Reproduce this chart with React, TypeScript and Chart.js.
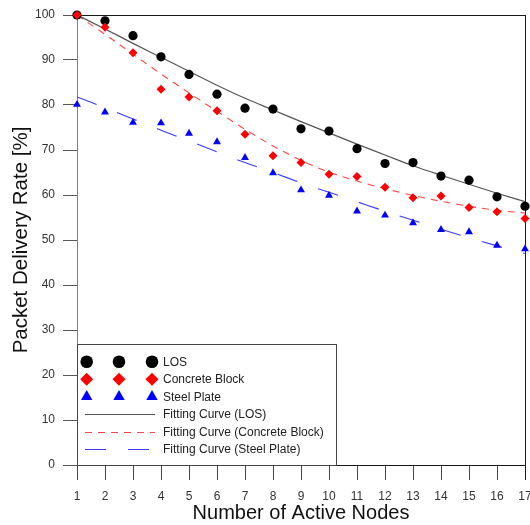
import React, { useEffect, useRef } from 'react';
import { Chart, registerables } from 'chart.js';

Chart.register(...registerables);

const nodes = [1, 2, 3, 4, 5, 6, 7, 8, 9, 10, 11, 12, 13, 14, 15, 16, 17];
const losRate = [100, 98.7, 95.4, 90.7, 86.8, 82.4, 79.3, 79.1, 74.7, 74.2, 70.3, 67.0, 67.2, 64.2, 63.3, 59.6, 57.5];
const concreteRate = [100, 97.3, 91.6, 83.5, 81.8, 78.7, 73.5, 68.7, 67.2, 64.6, 64.1, 61.7, 59.4, 59.8, 57.2, 56.3, 54.8];
const steelRate = [80.1, 78.4, 76.1, 76.0, 73.7, 71.8, 68.3, 64.9, 61.1, 59.9, 56.4, 55.5, 53.8, 52.3, 51.8, 48.8, 48.0];
const fitLos = [100, 96.9, 93.7, 90.6, 87.5, 84.4, 81.5, 78.9, 76.3, 73.8, 71.3, 68.9, 66.5, 64.4, 62.4, 60.4, 58.5];
const fitConcrete = [100, 95.7, 91.3, 86.9, 82.7, 78.6, 74.6, 70.9, 67.7, 65.1, 63.1, 61.4, 59.9, 58.6, 57.5, 56.6, 56.0];
const fitSteel = [81.8, 79.4, 76.9, 74.4, 72.0, 69.6, 67.2, 65.0, 62.7, 60.6, 58.5, 56.4, 54.4, 52.4, 50.5, 48.7, 47.0];

const yTicks = [0, 10, 20, 30, 40, 50, 60, 70, 80, 90, 100];

const FONT = "'Liberation Sans', Arial, sans-serif";

const toXY = (vals: number[]) => vals.map((v, i) => ({ x: nodes[i], y: v }));

function drawMarker(ctx: CanvasRenderingContext2D, style: string, x: number, y: number, r: number, color: string) {
  ctx.fillStyle = color;
  ctx.beginPath();
  if (style === 'circle') {
    ctx.arc(x, y, r, 0, Math.PI * 2);
  } else if (style === 'rectRot') {
    ctx.moveTo(x, y - r);
    ctx.lineTo(x + r, y);
    ctx.lineTo(x, y + r);
    ctx.lineTo(x - r, y);
    ctx.closePath();
  } else {
    const h = r * Math.sin(Math.PI / 3);
    ctx.moveTo(x, y - r);
    ctx.lineTo(x + h, y + r / 2);
    ctx.lineTo(x - h, y + r / 2);
    ctx.closePath();
  }
  ctx.fill();
}

const framePlugin = {
  id: 'framePlugin',
  beforeDatasetsDraw(chart: any) {
    const { ctx, chartArea: a } = chart;
    ctx.save();
    ctx.strokeStyle = '#1a1a1a';
    ctx.lineWidth = 1;
    ctx.beginPath();
    ctx.moveTo(a.left, Math.round(a.top) + 0.5);
    ctx.lineTo(a.right, Math.round(a.top) + 0.5);
    ctx.moveTo(Math.round(a.right) + 0.5, a.top);
    ctx.lineTo(Math.round(a.right) + 0.5, a.bottom + 15);
    ctx.stroke();
    ctx.restore();
  },
};

const boxLegendPlugin = {
  id: 'boxLegend',
  afterDatasetsDraw(chart: any) {
    const { ctx, chartArea: a } = chart;
    const bx = Math.round(a.left);
    const bw = 259;
    const bh = 121;
    const by = Math.round(a.bottom) - bh;
    ctx.save();
    ctx.fillStyle = '#ffffff';
    ctx.fillRect(bx, by, bw, bh);
    ctx.strokeStyle = '#444444';
    ctx.lineWidth = 1;
    ctx.strokeRect(bx + 0.5, by + 0.5, bw, bh);
    ctx.font = `12px ${FONT}`;
    ctx.textBaseline = 'middle';
    ctx.textAlign = 'left';
    chart.data.datasets.forEach((ds: any, i: number) => {
      const y = by + 17.7 + i * 17.5;
      if (ds.showLine === false) {
        const r = ds.legendRadius;
        [9.7, 42, 75].forEach((dx) => drawMarker(ctx, ds.pointStyle, bx + dx, y, r, ds.backgroundColor));
      } else {
        ctx.strokeStyle = ds.borderColor;
        ctx.lineWidth = ds.borderWidth;
        ctx.setLineDash(ds.borderDash || []);
        ctx.beginPath();
        ctx.moveTo(bx + 8, Math.round(y) + 0.5);
        ctx.lineTo(bx + 78, Math.round(y) + 0.5);
        ctx.stroke();
        ctx.setLineDash([]);
      }
      ctx.fillStyle = '#222222';
      ctx.fillText(ds.label, bx + 86, y + 0.5);
    });
    ctx.restore();
  },
};

export default function App() {
  const canvasRef = useRef<HTMLCanvasElement | null>(null);

  useEffect(() => {
    const canvas = canvasRef.current;
    if (!canvas) return;
    const pointDs = (label: string, vals: number[], color: string, style: string, radius: number, legendRadius: number, order: number) => ({
      type: 'scatter' as const,
      label,
      data: toXY(vals),
      showLine: false,
      pointStyle: style,
      pointRadius: radius,
      pointHoverRadius: radius,
      backgroundColor: color,
      borderColor: color,
      borderWidth: 0,
      legendRadius,
      clip: false as any,
      order,
    });
    const lineDs = (label: string, vals: number[], color: string, dash: number[], width: number, order: number) => ({
      type: 'line' as const,
      label,
      data: toXY(vals),
      showLine: true,
      borderColor: color,
      backgroundColor: color,
      borderWidth: width,
      borderDash: dash,
      pointRadius: 0,
      cubicInterpolationMode: 'monotone' as const,
      fill: false,
      order,
    });

    const chart = new Chart(canvas, {
      type: 'scatter',
      data: {
        datasets: [
          pointDs('LOS', losRate, '#000000', 'circle', 4.6, 6.3, 1),
          pointDs('Concrete Block', concreteRate, '#ff0000', 'rectRot', 4.5, 6.5, 0),
          pointDs('Steel Plate', steelRate, '#0000ff', 'triangle', 4.6, 6.6, 2),
          lineDs('Fitting Curve (LOS)', fitLos, '#555555', [], 1.2, 3),
          lineDs('Fitting Curve (Concrete Block)', fitConcrete, '#ff4545', [7, 6], 1.1, 4),
          lineDs('Fitting Curve (Steel Plate)', fitSteel, '#3a3aff', [21, 22], 1.1, 5),
        ] as any,
      },
      options: {
        responsive: false,
        animation: false,
        devicePixelRatio: 1,
        layout: { padding: { left: 0, right: 5, top: 15, bottom: 0 } },
        plugins: {
          legend: { display: false },
          tooltip: { enabled: false },
        },
        scales: {
          x: {
            type: 'linear',
            min: nodes[0],
            max: nodes[nodes.length - 1],
            afterFit: (s: any) => {
              s.height = 60;
              s.paddingLeft = 0;
              s.paddingRight = 0;
            },
            afterBuildTicks: (s: any) => {
              s.ticks = nodes.map((v) => ({ value: v }));
            },
            ticks: {
              autoSkip: false,
              maxRotation: 0,
              padding: 9,
              color: '#333333',
              font: { family: FONT, size: 12 },
            },
            grid: {
              display: true,
              drawOnChartArea: false,
              drawTicks: true,
              tickLength: 15,
              color: '#444444',
              lineWidth: 1,
            },
            border: { display: true, color: '#1a1a1a', width: 1 },
            title: {
              display: true,
              text: 'Number of Active Nodes',
              color: '#111111',
              font: { family: FONT, size: 20, lineHeight: 1.2 },
              padding: { top: 0, bottom: 0 },
            },
          },
          y: {
            type: 'linear',
            min: yTicks[0],
            max: yTicks[yTicks.length - 1],
            afterFit: (s: any) => {
              s.width = 77;
              s.paddingTop = 0;
              s.paddingBottom = 0;
            },
            afterBuildTicks: (s: any) => {
              s.ticks = yTicks.map((v) => ({ value: v }));
            },
            ticks: {
              padding: 8,
              color: '#333333',
              font: { family: FONT, size: 12 },
            },
            grid: {
              display: true,
              drawOnChartArea: false,
              drawTicks: true,
              tickLength: 14,
              color: '#555555',
              lineWidth: 1,
            },
            border: { display: true, color: '#808080', width: 1 },
            title: {
              display: true,
              text: 'Packet Delivery Rate [%]',
              color: '#111111',
              font: { family: FONT, size: 20.5, lineHeight: 1.2 },
              padding: { top: 9, bottom: 0 },
            },
          },
        },
      } as any,
      plugins: [framePlugin, boxLegendPlugin],
    });
    return () => chart.destroy();
  }, []);

  return (
    <div style={{ position: 'absolute', left: 0, top: 0, width: 530, height: 525, background: '#ffffff' }}>
      <canvas ref={canvasRef} width={530} height={525} style={{ display: 'block', width: 530, height: 525 }} />
    </div>
  );
}
